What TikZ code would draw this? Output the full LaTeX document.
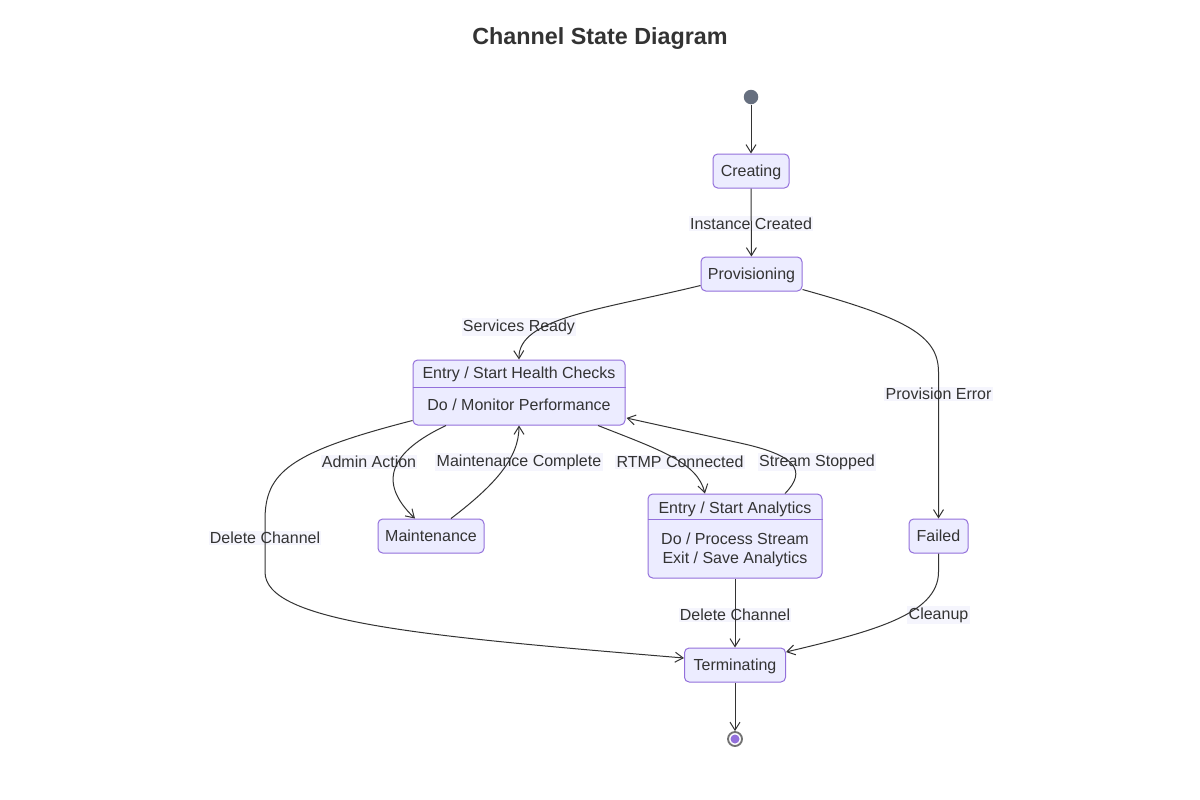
\documentclass[tikz,border=0pt]{standalone}
\usepackage{fontspec}
\setmainfont{Liberation Sans}
\usetikzlibrary{arrows.meta,calc}
\definecolor{nodefill}{HTML}{ECECFF}
\definecolor{nodeline}{HTML}{9370DB}
\definecolor{txt}{HTML}{333333}
\definecolor{edge}{HTML}{333333}
\definecolor{lblbg}{HTML}{F2F2FD}
\definecolor{startc}{HTML}{666F7F}
\tikzset{
  st/.style={draw=nodeline, fill=nodefill, rounded corners=3.5pt, line width=0.75pt, text=txt, font=\fontsize{12}{14}\selectfont, inner sep=0pt, minimum height={34*0.75pt}, text height=8.6pt, text depth=0pt},
  txtnode/.style={text=txt, font=\fontsize{12}{14}\selectfont, inner sep=0pt, text height=8.6pt, text depth=0pt},
  tr/.style={draw=edge, line width=0.75pt, -{Straight Barb[length=6pt,width=7.5pt]}},
  lbl/.style={fill=lblbg, fill opacity=0.7, text opacity=1, text=txt, font=\fontsize{12}{14}\selectfont, inner sep=1pt, yshift=-1.2pt}
}
\begin{document}
\begin{tikzpicture}[x=0.75pt,y=-0.75pt]
\fill[white] (0,0) rectangle (1200,800);
\useasboundingbox (0,0) rectangle (1200,800);
\node[text=txt, font=\bfseries\fontsize{17.5}{20}\selectfont] (title) at (600,39) {Channel State Diagram};
% start / end
\node[circle, fill=startc, minimum size={14.5*0.75pt}, inner sep=0pt] (start) at (751,97) {};
\node[circle, draw=gray!90!black, line width=1.4pt, fill=white, minimum size={14*0.75pt}, inner sep=0pt] (endo) at (735,739) {};
\node[circle, fill=nodeline, minimum size={9*0.75pt}, inner sep=0pt] (endi) at (735,739) {};
% states
\node[st, minimum width={76*0.75pt}] (creating) at (751,171) {Creating};
\node[st, minimum width={101*0.75pt}] (prov) at (751.5,274) {Provisioning};
\node[st, minimum width={106*0.75pt}] (maint) at (431,536) {Maintenance};
\node[st, minimum width={59*0.75pt}] (failed) at (938.5,536) {Failed};
\node[st, minimum width={101*0.75pt}] (term) at (735,665) {Terminating};
% health state
\node[st, minimum width={212*0.75pt}, minimum height={65*0.75pt}] (health) at (519,392.5) {};
\draw[draw=nodeline, line width=0.75pt] ($(health.west)+(0,-5.5)$) coordinate (hd1) -- ($(health.east)+(0,-5.5)$) coordinate (hd2);
\node[txtnode] (h1) at (519,373) {Entry / Start Health Checks};
\node[txtnode] (h2) at (519,405) {Do / Monitor Performance};
% analytics state
\node[st, minimum width={174*0.75pt}, minimum height={84*0.75pt}] (anal) at (735,536) {};
\draw[draw=nodeline, line width=0.75pt] ($(anal.north west)+(0,26)$) coordinate (ad1) -- ($(anal.north east)+(0,26)$) coordinate (ad2);
\node[txtnode] (a1) at (735,508) {Entry / Start Analytics};
\node[txtnode] (a2a) at (735,539) {Do / Process Stream};
\node[txtnode] (a2b) at (735,558) {Exit / Save Analytics};
% labels
\node[lbl] (l1) at (751,222) {Instance Created};
\node[lbl] (l2) at (519,325.5) {Services Ready};
\node[lbl] (l3) at (938.5,392.5) {Provision Error};
\node[lbl] (l4) at (369,460.5) {Admin Action};
\node[lbl] (l5) at (519,460.5) {Maintenance Complete};
\node[lbl] (l6) at (680,460.5) {RTMP Connected};
\node[lbl] (l7) at (817,460.5) {Stream Stopped};
\node[lbl] (l8) at (265,536.5) {Delete Channel};
\node[lbl] (l9) at (735,613.5) {Delete Channel};
\node[lbl] (l10) at (938.5,613.5) {Cleanup};
% transitions
\draw[tr] (start) -- (creating);
\draw[tr] (creating) -- (prov);
\draw[tr] ($(prov.south west)+(0,-6)$) .. controls (600,310) and (518,318) .. (health.north);
\draw[tr] ($(prov.south east)+(0,-2)$) .. controls (905,318) and (938.5,335) .. (938.5,372) -- (failed.north);
\draw[tr] ($(health.south)+(-73,0)$) .. controls (390,452) and (377,482) .. ($(maint.north)+(-16,0)$);
\draw[tr] ($(maint.north)+(20,0)$) .. controls (495,485) and (519,458) .. (health.south);
\draw[tr] ($(health.south)+(79,0)$) .. controls (660,450) and (697,462) .. ($(anal.north)+(-30,0)$);
\draw[tr] ($(anal.north)+(50,0)$) .. controls (808,470) and (795,455) .. (740,443) -- ($(health.east)+(1,25.5)$);
\draw[tr] ($(health.south west)+(0,-5)$) .. controls (290,452) and (265,472) .. (265,520) -- (265,572) .. controls (265,622) and (420,636) .. ($(term.west)+(0,-7)$);
\draw[tr] (anal.south) -- (term.north);
\draw[tr] (failed.south) -- (938.5,572) .. controls (938.5,615) and (870,632) .. ($(term.east)+(0,-13)$);
\draw[tr] (term.south) -- (endo.north);
\end{tikzpicture}
\end{document}
